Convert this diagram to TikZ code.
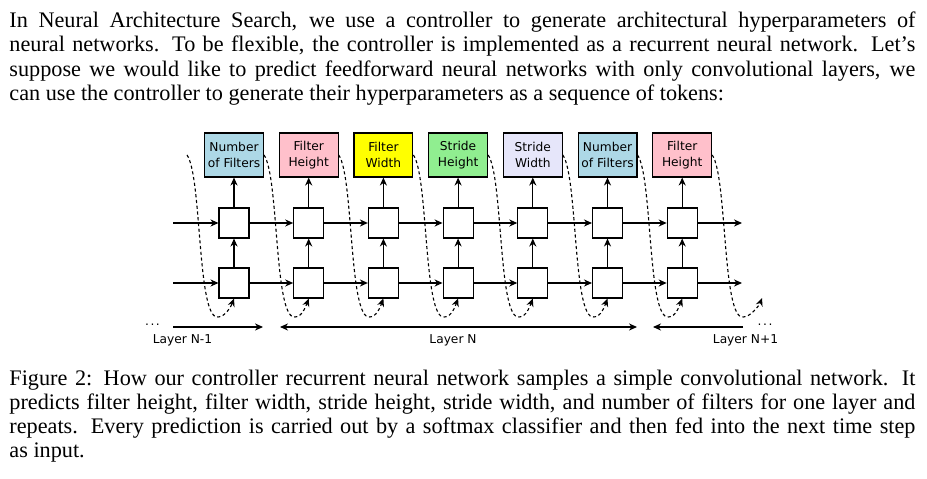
\documentclass[tikz,border=0pt]{standalone}
\usepackage{fontspec}
\usepackage{xcolor}
\setmainfont{Liberation Serif}
\newfontfamily\diagfont{DejaVu Sans}
\usetikzlibrary{arrows.meta}

\definecolor{filtersblue}{HTML}{ADD8E6}
\definecolor{heightpink}{HTML}{FFC0CB}
\definecolor{widthyellow}{HTML}{FFFF00}
\definecolor{stridegreen}{HTML}{90EE90}
\definecolor{stridelavender}{HTML}{E6E6FA}

\tikzset{
  textline/.style={anchor=base west, inner sep=0pt, font=\fontsize{10}{11}\selectfont},
  token/.style={draw, line width=0.5pt, minimum width=26.5pt, minimum height=19.8pt,
    inner sep=0.5pt, align=center, font=\diagfont\fontsize{5.5}{7}\selectfont},
  cell/.style={draw, line width=0.5pt, fill=white, minimum size=13.5pt, inner sep=0pt},
  link/.style={->, line width=0.5pt},
  feedback/.style={->, line width=0.5pt, dash pattern=on 1.4pt off 1.2pt},
  layerlabel/.style={anchor=base, inner sep=0pt, font=\diagfont\fontsize{5.5}{7}\selectfont}
}

\begin{document}
\begin{tikzpicture}[x=0.45pt,y=-0.45pt,>={Stealth[length=3.6pt,width=3.2pt]}]
\useasboundingbox (0,0) rectangle (927,479);

% text above the figure
\node[textline] (intro1) at (9,27.3) {\makebox[407.7pt][s]{In Neural Architecture Search, we use a controller to generate architectural hyperparameters of}};
\node[textline] (intro2) at (9,51.7) {\makebox[407.7pt][s]{neural networks. To be flexible, the controller is implemented as a recurrent neural network. Let’s}};
\node[textline] (intro3) at (9,76.1) {\makebox[407.7pt][s]{suppose we would like to predict feedforward neural networks with only convolutional layers, we}};
\node[textline] (intro4) at (9,100.5) {can use the controller to generate their hyperparameters as a sequence of tokens:};

% predicted tokens
\node[token, fill=filtersblue] (t1) at (234,155) {Number\\of Filters};
\node[token, fill=heightpink] (t2) at (308.7,155) {Filter\\Height};
\node[token, fill=widthyellow] (t3) at (383.4,155) {Filter\\Width};
\node[token, fill=stridegreen] (t4) at (458.1,155) {Stride\\Height};
\node[token, fill=stridelavender] (t5) at (532.8,155) {Stride\\Width};
\node[token, fill=filtersblue] (t6) at (607.5,155) {Number\\of Filters};
\node[token, fill=heightpink] (t7) at (682.2,155) {Filter\\Height};

% upper cells
\node[cell] (u1) at (234,223) {};
\node[cell] (u2) at (308.7,223) {};
\node[cell] (u3) at (383.4,223) {};
\node[cell] (u4) at (458.1,223) {};
\node[cell] (u5) at (532.8,223) {};
\node[cell] (u6) at (607.5,223) {};
\node[cell] (u7) at (682.2,223) {};

% lower cells
\node[cell] (l1) at (234,283) {};
\node[cell] (l2) at (308.7,283) {};
\node[cell] (l3) at (383.4,283) {};
\node[cell] (l4) at (458.1,283) {};
\node[cell] (l5) at (532.8,283) {};
\node[cell] (l6) at (607.5,283) {};
\node[cell] (l7) at (682.2,283) {};

% recurrent connections
\coordinate (inu) at (173,223);
\coordinate (inl) at (173,283);
\coordinate (outu) at (742,223);
\coordinate (outl) at (742,283);
\draw[link] (inu) -- (u1);
\draw[link] (u1) -- (u2);
\draw[link] (u2) -- (u3);
\draw[link] (u3) -- (u4);
\draw[link] (u4) -- (u5);
\draw[link] (u5) -- (u6);
\draw[link] (u6) -- (u7);
\draw[link] (u7) -- (outu);
\draw[link] (inl) -- (l1);
\draw[link] (l1) -- (l2);
\draw[link] (l2) -- (l3);
\draw[link] (l3) -- (l4);
\draw[link] (l4) -- (l5);
\draw[link] (l5) -- (l6);
\draw[link] (l6) -- (l7);
\draw[link] (l7) -- (outl);

% layer to layer and cell to token
\draw[link] (l1) -- (u1); \draw[link] (u1) -- (t1);
\draw[link] (l2) -- (u2); \draw[link] (u2) -- (t2);
\draw[link] (l3) -- (u3); \draw[link] (u3) -- (t3);
\draw[link] (l4) -- (u4); \draw[link] (u4) -- (t4);
\draw[link] (l5) -- (u5); \draw[link] (u5) -- (t5);
\draw[link] (l6) -- (u6); \draw[link] (u6) -- (t6);
\draw[link] (l7) -- (u7); \draw[link] (u7) -- (t7);

% token fed into the next time step
\coordinate (feed0) at (187,155);
\coordinate (feed8) at (762,298);
\draw[feedback] (feed0) .. controls +(15,21) and +(-21,3) .. ++(31,162) .. controls +(7,0) and +(-3,8) .. (l1.south);
\draw[feedback] (t1.east) .. controls +(15,21) and +(-21,3) .. ++(31,162) .. controls +(7,0) and +(-3,8) .. (l2.south);
\draw[feedback] (t2.east) .. controls +(15,21) and +(-21,3) .. ++(31,162) .. controls +(7,0) and +(-3,8) .. (l3.south);
\draw[feedback] (t3.east) .. controls +(15,21) and +(-21,3) .. ++(31,162) .. controls +(7,0) and +(-3,8) .. (l4.south);
\draw[feedback] (t4.east) .. controls +(15,21) and +(-21,3) .. ++(31,162) .. controls +(7,0) and +(-3,8) .. (l5.south);
\draw[feedback] (t5.east) .. controls +(15,21) and +(-21,3) .. ++(31,162) .. controls +(7,0) and +(-3,8) .. (l6.south);
\draw[feedback] (t6.east) .. controls +(15,21) and +(-21,3) .. ++(31,162) .. controls +(7,0) and +(-3,8) .. (l7.south);
\draw[feedback] (t7.east) .. controls +(15,21) and +(-21,3) .. ++(31,162) .. controls +(7,0) and +(-3,8) .. (feed8);

% layer ranges
\coordinate (prevs) at (173,327);
\coordinate (preve) at (263,327);
\coordinate (curs) at (280,327);
\coordinate (cure) at (637,327);
\coordinate (nexts) at (743,327);
\coordinate (nexte) at (653,327);
\draw[link] (prevs) -- (preve);
\draw[link, <->] (curs) -- (cure);
\draw[link] (nexts) -- (nexte);
\node[layerlabel] (dotsl) at (152.5,326) {.\kern0.7pt.\kern0.7pt.};
\node[layerlabel] (dotsr) at (765,326) {.\kern0.7pt.\kern0.7pt.};
\node[layerlabel] (lprev) at (182.5,344) {Layer N-1};
\node[layerlabel] (lcur) at (453,344) {Layer N};
\node[layerlabel] (lnext) at (745.5,344) {Layer N+1};

% caption
\node[textline] (cap1) at (9,386) {\makebox[407.7pt][s]{Figure 2: How our controller recurrent neural network samples a simple convolutional network. It}};
\node[textline] (cap2) at (9,410) {\makebox[407.7pt][s]{predicts filter height, filter width, stride height, stride width, and number of filters for one layer and}};
\node[textline] (cap3) at (9,434) {\makebox[407.7pt][s]{repeats. Every prediction is carried out by a softmax classifier and then fed into the next time step}};
\node[textline] (cap4) at (9,458) {as input.};

\end{tikzpicture}
\end{document}
